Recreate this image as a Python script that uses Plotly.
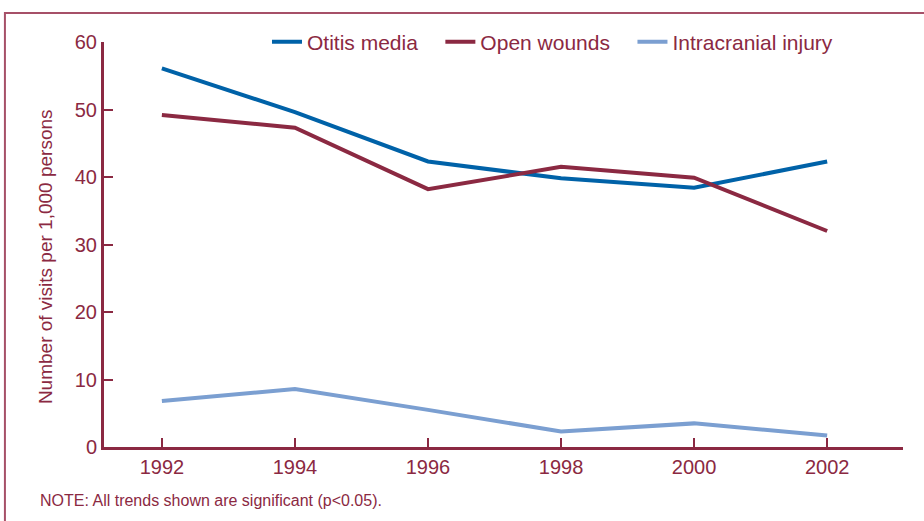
import plotly.graph_objects as go

years = [1992, 1994, 1996, 1998, 2000, 2002]
otitis_media = [56.1, 49.6, 42.3, 39.8, 38.4, 42.3]
open_wounds = [49.2, 47.3, 38.2, 41.5, 39.9, 32.0]
intracranial_injury = [6.8, 8.6, 5.5, 2.3, 3.5, 1.7]
y_ticks = [0, 10, 20, 30, 40, 50, 60]

maroon = "#8b2942"
font = "Liberation Sans"
pad = "\u00a0\u00a0\u00a0"

fig = go.Figure()
fig.add_trace(go.Scatter(x=years, y=otitis_media, mode="lines", name="Otitis media" + pad,
                         line=dict(color="#0062a8", width=4)))
fig.add_trace(go.Scatter(x=years, y=open_wounds, mode="lines", name="Open wounds" + pad,
                         line=dict(color="#8b2942", width=4)))
fig.add_trace(go.Scatter(x=years, y=intracranial_injury, mode="lines", name="Intracranial injury",
                         line=dict(color="#7b9fd1", width=4)))

fig.update_layout(
    width=924, height=521,
    margin=dict(l=104, r=21, t=42, b=74),
    paper_bgcolor="white", plot_bgcolor="white",
    font=dict(family=font, color=maroon, size=20),
    showlegend=True,
    legend=dict(orientation="h", x=0.204, y=1.0, xanchor="left", yanchor="middle",
                font=dict(size=21, color=maroon), itemwidth=30,
                bgcolor="rgba(0,0,0,0)"),
    xaxis=dict(range=[1991.13, 2003.14], tickvals=years, ticktext=[str(y) for y in years],
               showgrid=False, zeroline=False, showline=True, linecolor=maroon, linewidth=3,
               ticks="inside", ticklen=9, tickwidth=2, tickcolor=maroon,
               tickfont=dict(size=20, color=maroon)),
    yaxis=dict(range=[0, 60], tickvals=y_ticks, showgrid=False, zeroline=False,
               showline=True, linecolor=maroon, linewidth=3,
               ticks="inside", ticklen=9, tickwidth=2, tickcolor=maroon,
               tickfont=dict(size=20, color=maroon)),
)

fig.add_annotation(text="Number of visits per 1,000 persons", textangle=-90,
                   xref="paper", yref="paper", x=-0.074, y=0.471, xanchor="center", yanchor="middle",
                   showarrow=False, font=dict(size=19, color=maroon))
fig.add_annotation(text="NOTE: All trends shown are significant (p<0.05).",
                   xref="paper", yref="paper", x=-0.082, y=-0.131, xanchor="left", yanchor="middle",
                   showarrow=False, font=dict(size=16, color=maroon))
fig.add_shape(type="rect", xref="paper", yref="paper", x0=-0.124, x1=1.2, y0=-0.3, y1=1.0716,
              line=dict(color="#a65068", width=2), layer="below")

fig.write_html("out.html", config={"displayModeBar": False},
               post_script="document.body.style.margin='0px';")
